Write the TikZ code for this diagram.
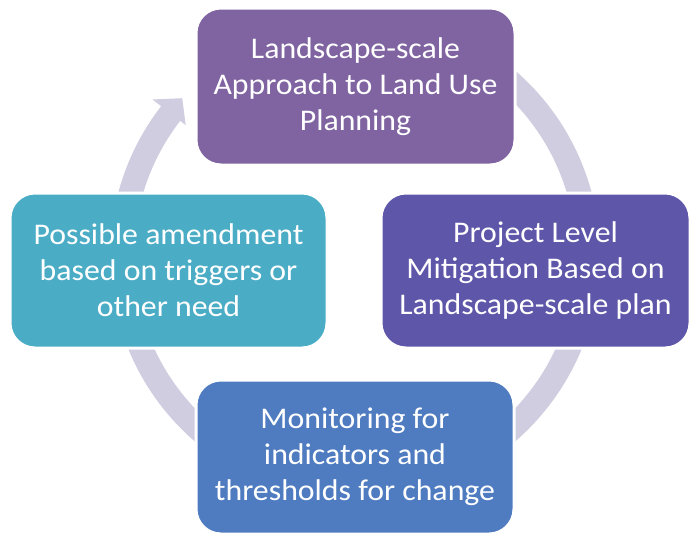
\documentclass[tikz,border=0pt]{standalone}
\usepackage{fontspec}
\setmainfont[FakeStretch=1.06]{Carlito}
\usetikzlibrary{calc}
\definecolor{planpurple}{HTML}{8064A2}
\definecolor{projviolet}{HTML}{5E56A9}
\definecolor{monblue}{HTML}{4F7CC0}
\definecolor{amendaqua}{HTML}{4BACC6}
\definecolor{ringgrey}{HTML}{D0CDE1}
\begin{document}
\begin{tikzpicture}[x=1pt,y=-1pt,
  stagebox/.style={rounded corners=25pt, draw=white, line width=3pt,
    text=white, align=center, inner sep=0pt,
    font=\fontsize{30}{36}\selectfont},
  cyclering/.style={fill=ringgrey}]
\useasboundingbox (0,0) rectangle (691,539);
\fill[white] (0,0) rectangle (691,539);

% centre of the circular arrow
\coordinate (c) at (355,256);

% circular arrow running clockwise, head pointing at the planning stage
\fill[cyclering]
  ($(c)+(142.3:245pt)$) arc[start angle=142.3, end angle=460, radius=245pt]
  -- ($(c)+(460:221pt)$) arc[start angle=460, end angle=142.3, radius=221pt]
  -- ($(c)+(142.3:214pt)$) -- ($(c)+(137.6:234pt)$)
  -- ($(c)+(142.3:256pt)$) -- cycle;

% the four stages of the cycle
\node[stagebox, fill=planpurple, minimum width=319pt, minimum height=157pt]
  (plan) at (355.5,86.5) {Landscape-scale\\Approach to Land Use\\Planning};
\node[stagebox, fill=projviolet, minimum width=309pt, minimum height=155pt]
  (project) at (535.5,270.5) {Project Level\\Mitigation Based on\\Landscape-scale plan};
\node[stagebox, fill=monblue, minimum width=318pt, minimum height=154pt]
  (monitor) at (355,457) {Monitoring for\\indicators and\\thresholds for change};
\node[stagebox, fill=amendaqua, minimum width=317pt, minimum height=155pt]
  (amend) at (168.5,270.5) {Possible amendment\\based on triggers or\\other need};
\end{tikzpicture}
\end{document}
